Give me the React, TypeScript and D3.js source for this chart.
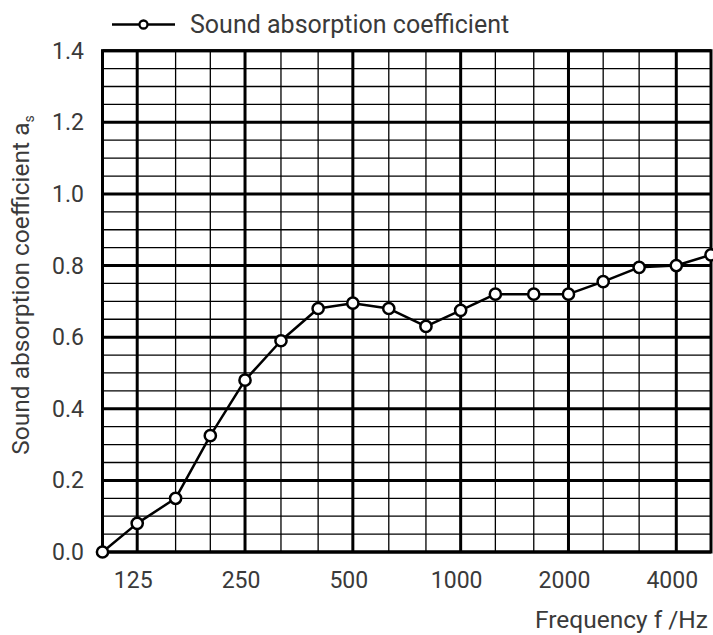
import React from "react";
import * as d3 from "d3";

const frequencies = [100, 125, 160, 200, 250, 315, 400, 500, 630, 800, 1000, 1250, 1600, 2000, 2500, 3150, 4000, 5000];
const absorption = [0.0, 0.08, 0.15, 0.325, 0.48, 0.59, 0.68, 0.695, 0.68, 0.63, 0.675, 0.72, 0.72, 0.72, 0.755, 0.795, 0.8, 0.83];
const octaveTicks = [125, 250, 500, 1000, 2000, 4000];
const yTicks = [0, 0.2, 0.4, 0.6, 0.8, 1.0, 1.2, 1.4];
const yMinor = d3.range(0, 1.4001, 0.05);

const seriesName = "Sound absorption coefficient";
const xTitle = "Frequency f /Hz";

const W = 713;
const H = 635;
const FONT = "Roboto, 'Noto Sans', sans-serif";
const TEXT = "#3a3a3a";

export default function App() {
  const x = d3.scaleLog().domain([100, 5000]).range([102.5, 711]);
  const y = d3.scaleLinear().domain([0, 1.4]).range([552, 50.7]);
  const line = d3
    .line<number>()
    .x((_, i) => x(frequencies[i]))
    .y((d) => y(d));

  const x0 = x(100);
  const x1 = x(5000);
  const y0 = y(0);
  const y1 = y(1.4);

  return (
    <svg
      width={W}
      height={H}
      style={{ position: "absolute", left: 0, top: 0, background: "#fff" }}
      fontFamily={FONT}
      fontWeight={400}
    >
      {yMinor.map((v, i) => (
        <line key={"hm" + i} x1={x0} x2={x1} y1={y(v)} y2={y(v)} stroke="#000" strokeWidth={1.3} />
      ))}
      {frequencies.map((f) => (
        <line key={"vm" + f} x1={x(f)} x2={x(f)} y1={y0} y2={y1} stroke="#000" strokeWidth={1.3} />
      ))}
      {yTicks.map((v) => (
        <line key={"hM" + v} x1={x0} x2={x1} y1={y(v)} y2={y(v)} stroke="#000" strokeWidth={3} />
      ))}
      {octaveTicks.map((f) => (
        <line key={"vM" + f} x1={x(f)} x2={x(f)} y1={y0} y2={y1} stroke="#000" strokeWidth={3} />
      ))}
      <rect x={x0} y={y1} width={x1 - x0} height={y0 - y1} fill="none" stroke="#000" strokeWidth={3} />

      <path d={line(absorption) || ""} fill="none" stroke="#000" strokeWidth={2.5} strokeLinejoin="round" />
      {absorption.map((v, i) => (
        <circle key={"c" + i} cx={x(frequencies[i])} cy={y(v)} r={5.6} fill="#fff" stroke="#000" strokeWidth={2.5} />
      ))}

      {yTicks.map((v) => (
        <text key={"yt" + v} x={84} y={y(v)} dy="0.35em" textAnchor="end" fontSize={23} fill={TEXT}>
          {v.toFixed(1)}
        </text>
      ))}
      {octaveTicks.map((f) => (
        <text key={"xt" + f} x={x(f) - 4} y={588} textAnchor="middle" fontSize={23} fill={TEXT}>
          {f}
        </text>
      ))}

      <text x={708} y={628} textAnchor="end" fontSize={24.5} fill={TEXT}>
        {xTitle}
      </text>

      <text transform="translate(29,285) rotate(-90)" textAnchor="middle" fontSize={24.5} fill={TEXT}>
        {seriesName} a
        <tspan fontSize={14} dy={5}>s</tspan>
      </text>

      <line x1={112} x2={175} y1={24.5} y2={24.5} stroke="#000" strokeWidth={2.5} />
      <circle cx={143.5} cy={24.5} r={4} fill="#fff" stroke="#000" strokeWidth={2.3} />
      <text x={190} y={33} fontSize={25} fill={TEXT}>
        {seriesName}
      </text>
    </svg>
  );
}
